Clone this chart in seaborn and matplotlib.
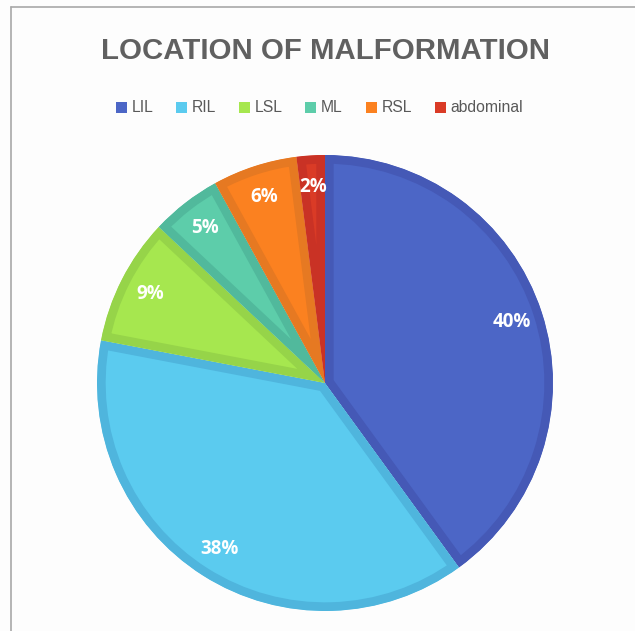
"""Pie chart: location of malformation."""

import matplotlib

matplotlib.use("Agg")
import matplotlib.pyplot as plt
import seaborn as sns
from matplotlib.lines import Line2D
from matplotlib.patches import Patch

locations = ["LIL", "RIL", "LSL", "ML", "RSL", "abdominal"]
shares = [40, 38, 9, 5, 6, 2]
face_colors = ["#4c66c6", "#5bcbef", "#a6e74f", "#5dcdaa", "#fb8120", "#da3b26"]
edge_colors = ["#4559b6", "#4fb5dd", "#96d449", "#51b99c", "#e67922", "#c93225"]

sns.set_theme(style="white")
plt.rcParams["font.family"] = ["Liberation Sans", "DejaVu Sans"]

fig = plt.figure(figsize=(6.35, 6.31), dpi=100)
fig.patch.set_facecolor("#fdfdfd")
ax = fig.add_axes([97 / 635, 20 / 631, 456 / 635, 456 / 631])

wedges, texts, autotexts = ax.pie(
    shares,
    colors=face_colors,
    startangle=90,
    counterclock=False,
    autopct="%d%%",
    pctdistance=0.86,
    radius=1.0,
    textprops={"color": "white", "fontsize": 13.5, "fontweight": "bold", "family": ["Open Sans", "DejaVu Sans"]},
)
# darker inner border: stroke clipped to each wedge's own outline
for w, ec in zip(wedges, edge_colors):
    w.set_edgecolor(ec)
    w.set_linewidth(12.5)
    w.set_joinstyle("round")
    w.set_clip_on(True)
    w.set_clip_path(w)

ax.set_xlim(-1, 1)
ax.set_ylim(-1, 1)
ax.set_aspect("equal")
ax.axis("off")

fig.text(0.512, 1 - 51 / 631, "LOCATION OF MALFORMATION", ha="center", va="center",
         fontsize=21.2, fontweight="bold", color="#606060")

handles = [Patch(facecolor=c, edgecolor="none") for c in face_colors]
fig.legend(handles, locations, loc="center", bbox_to_anchor=(0.503, 1 - 108 / 631), ncol=6,
           frameon=False, fontsize=11.3, handlelength=0.7, handleheight=0.7, handletextpad=0.3,
           columnspacing=1.45, labelcolor="#595959")

# frame remnants on top and left
fig.add_artist(Line2D([11 / 635, 1], [1 - 7 / 631, 1 - 7 / 631], color="#a8a8a8", lw=1.2))
fig.add_artist(Line2D([11 / 635, 11 / 635], [0, 1 - 7 / 631], color="#a8a8a8", lw=1.2))

fig.savefig("out.png", dpi=100)
